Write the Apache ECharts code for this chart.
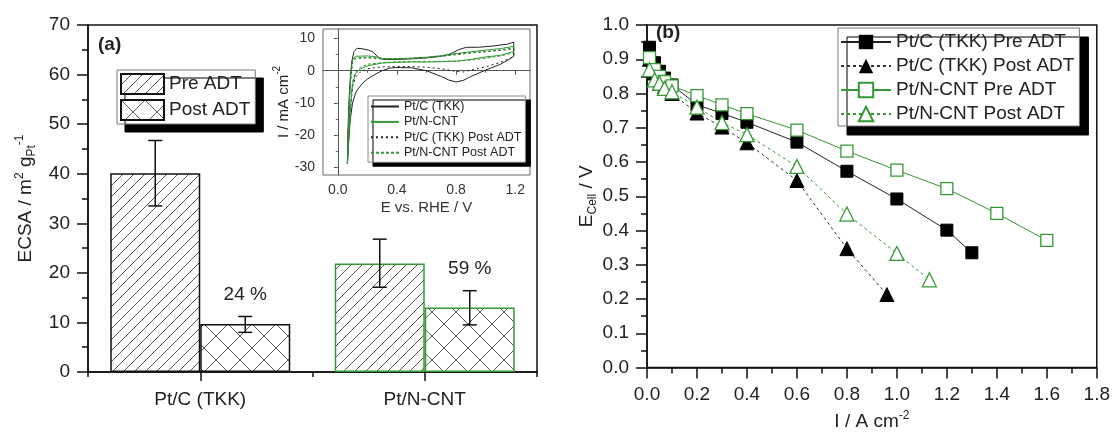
<!DOCTYPE html>
<html lang="en" style="height: 100%">
<head>
  <meta charset="utf-8">
</head>
<body style="height: 100%; margin: 0">
<div id="container" style="width: 1113px; height: 436px"></div>
<script type="text/javascript" src="https://fastly.jsdelivr.net/npm/echarts@6.0.0/dist/echarts.min.js"></script>
<script type="text/javascript">
// ---- panel (a): ECSA bars ----
var catalysts = ['Pt/C (TKK)', 'Pt/N-CNT'];
var ecsaPre = [40.1, 21.9];
var ecsaPreErr = [[33.5, 46.7], [17.1, 26.8]];
var ecsaPost = [9.7, 13.0];
var ecsaPostErr = [[8.0, 11.2], [9.5, 16.4]];
var retention = ['24 %', '59 %'];

// ---- inset: cyclic voltammograms [E / V, I / mA cm-2] ----
var cvPtC = [[0.065,-29],[0.068,-20],[0.075,-10],[0.085,-2],[0.095,3],[0.11,6],[0.13,7.0],[0.17,6.8],[0.21,6.4],[0.24,5.8],[0.27,4.3],[0.3,3.6],[0.4,3.5],[0.5,3.7],[0.6,4.0],[0.7,4.5],[0.76,5.2],[0.82,6.6],[0.87,7.3],[0.95,7.3],[1.05,7.7],[1.15,8.3],[1.19,8.9],
  [1.19,4.5],[1.15,3.3],[1.1,2.0],[1.0,0.2],[0.9,-1.8],[0.85,-3.0],[0.8,-3.5],[0.75,-2.9],[0.7,-1.8],[0.6,0.0],[0.5,0.9],[0.4,1.0],[0.35,0.8],[0.3,0.0],[0.25,-1.2],[0.2,-2.6],[0.17,-3.8],[0.14,-5.5],[0.12,-7],[0.1,-10],[0.085,-15],[0.075,-21],[0.065,-29]];
var cvNCNT = [[0.065,-29],[0.07,-20],[0.08,-8],[0.09,0],[0.1,3.5],[0.12,4.5],[0.2,4.6],[0.25,4.4],[0.3,3.8],[0.4,3.7],[0.5,3.9],[0.6,4.2],[0.7,4.7],[0.8,5.3],[0.9,5.9],[1.0,6.4],[1.1,6.9],[1.19,7.6],
  [1.19,6.0],[1.1,4.8],[1.0,4.3],[0.9,3.5],[0.8,3.0],[0.7,2.8],[0.6,2.7],[0.5,2.7],[0.4,2.6],[0.3,2.4],[0.2,1.5],[0.15,0.5],[0.12,-1],[0.1,-4],[0.085,-12],[0.075,-20],[0.065,-29]];
var cvPtCPost = [[0.065,-29],[0.07,-20],[0.08,-8],[0.09,-1],[0.1,2.5],[0.12,3.8],[0.2,4.0],[0.3,3.7],[0.4,3.7],[0.5,3.9],[0.6,4.1],[0.7,4.5],[0.8,5.2],[0.9,5.6],[1.0,5.9],[1.1,6.3],[1.19,6.9],
  [1.19,4.4],[1.1,2.6],[1.0,1.2],[0.9,0.2],[0.85,-0.4],[0.8,-0.2],[0.7,0.6],[0.6,1.1],[0.5,1.3],[0.4,1.3],[0.3,1.2],[0.2,0.6],[0.15,-0.5],[0.12,-2],[0.1,-5],[0.085,-12],[0.075,-20],[0.065,-29]];
var cvNCNTPost = [[0.065,-29],[0.07,-20],[0.08,-8],[0.09,-0.5],[0.1,3.0],[0.12,4.0],[0.2,4.2],[0.3,3.8],[0.4,3.7],[0.5,3.8],[0.6,4.1],[0.7,4.5],[0.8,5.0],[0.9,5.5],[1.0,6.0],[1.1,6.5],[1.19,7.2],
  [1.19,5.6],[1.1,4.6],[1.0,3.9],[0.9,3.3],[0.8,3.0],[0.7,2.9],[0.6,2.9],[0.5,2.9],[0.4,2.8],[0.3,2.5],[0.2,2.0],[0.15,1.0],[0.12,-0.5],[0.1,-3.5],[0.085,-12],[0.075,-20],[0.065,-29]];
var cvXTicks = [0, 0.4, 0.8, 1.2];
var cvXMinor = [0.2, 0.6, 1.0];
var cvYTicks = [-30, -20, -10, 0, 10];
var cvYMinor = [-25, -15, -5, 5];

// ---- panel (b): polarisation curves ----
var iPtCPre = [0.01, 0.03, 0.05, 0.07, 0.1, 0.2, 0.3, 0.4, 0.6, 0.8, 1.0, 1.2, 1.3];
var ePtCPre = [0.935, 0.89, 0.865, 0.845, 0.825, 0.767, 0.742, 0.716, 0.658, 0.573, 0.492, 0.401, 0.335];
var iPtCPost = [0.01, 0.03, 0.05, 0.07, 0.1, 0.2, 0.3, 0.4, 0.6, 0.8, 0.96];
var ePtCPost = [0.9, 0.86, 0.84, 0.82, 0.80, 0.743, 0.702, 0.656, 0.546, 0.347, 0.213];
var iNCNTPre = [0.01, 0.03, 0.05, 0.07, 0.1, 0.2, 0.3, 0.4, 0.6, 0.8, 1.0, 1.2, 1.4, 1.6];
var eNCNTPre = [0.905, 0.87, 0.85, 0.835, 0.822, 0.794, 0.767, 0.741, 0.693, 0.632, 0.576, 0.522, 0.450, 0.371];
var iNCNTPost = [0.01, 0.03, 0.05, 0.07, 0.1, 0.2, 0.3, 0.4, 0.6, 0.8, 1.0, 1.13];
var eNCNTPost = [0.87, 0.84, 0.83, 0.815, 0.805, 0.76, 0.715, 0.68, 0.587, 0.448, 0.333, 0.256];

var FONT = 'Arial, "Liberation Sans", sans-serif';
var INK = '#222';
var GREEN = '#349934';
var BAR_W = 90;
var barBorder = ['#111', GREEN];

function zip(xs, ys) { return xs.map(function (x, i) { return [x, ys[i]]; }); }

// hatch textures for the bars
function hatch(step, cross) {
  var c = document.createElement('canvas');
  c.width = c.height = step;
  var g = c.getContext('2d');
  g.fillStyle = '#fff';
  g.fillRect(0, 0, step, step);
  g.strokeStyle = '#555';
  g.lineWidth = 1;
  g.beginPath();
  g.moveTo(-1, step + 1); g.lineTo(step + 1, -1);
  if (cross) { g.moveTo(-1, -1); g.lineTo(step + 1, step + 1); }
  g.stroke();
  return c;
}
var preFill = { image: hatch(11, false), repeat: 'repeat' };
var postFill = { image: hatch(24, true), repeat: 'repeat' };

function rich(size, small) {
  return {
    n: { fontSize: size, fontFamily: FONT, color: INK },
    sup: { fontSize: small, fontFamily: FONT, color: INK, padding: [0, 0, 12, 0] },
    sub: { fontSize: small, fontFamily: FONT, color: INK, padding: [12, 0, 0, 0] }
  };
}

function errorSeries(errs, side, labels) {
  return {
    type: 'custom',
    xAxisIndex: 0,
    yAxisIndex: 0,
    z: 5,
    silent: true,
    data: errs.map(function (e, i) { return [i, e[0], e[1]]; }),
    encode: { x: 0, y: [1, 2] },
    renderItem: function (params, api) {
      var lo = api.coord([api.value(0), api.value(1)]);
      var hi = api.coord([api.value(0), api.value(2)]);
      var x = lo[0] + side * BAR_W / 2;
      var cap = 7;
      var st = { stroke: '#111', lineWidth: 1.5 };
      var kids = [
        { type: 'line', shape: { x1: x, y1: lo[1], x2: x, y2: hi[1] }, style: st },
        { type: 'line', shape: { x1: x - cap, y1: lo[1], x2: x + cap, y2: lo[1] }, style: st },
        { type: 'line', shape: { x1: x - cap, y1: hi[1], x2: x + cap, y2: hi[1] }, style: st }
      ];
      if (labels) {
        kids.push({ type: 'text', style: { text: labels[params.dataIndex], x: x, y: hi[1] - 12,
          align: 'center', verticalAlign: 'bottom', fontSize: 19, fontFamily: FONT, fill: INK } });
      }
      return { type: 'group', children: kids };
    }
  };
}

var dom = document.getElementById('container');
var myChart = echarts.init(dom, null, { renderer: 'canvas' });

function ticks(len, color, width, extra) {
  return Object.assign({ show: true, inside: false, length: len, lineStyle: { color: color, width: width } }, extra || {});
}
var mainMinor = { show: true, splitNumber: 2, length: 6, lineStyle: { color: '#111', width: 1.5 } };
var mainLine = { show: true, lineStyle: { color: '#111', width: 1.5 } };
var mainLabel = { fontSize: 19, fontFamily: FONT, color: INK, margin: 18 };
var cvLine = { show: true, lineStyle: { color: '#555', width: 1 } };
var cvLabel = { fontSize: 14, fontFamily: FONT, color: '#333' };

var option = {
  animation: false,
  backgroundColor: '#fff',
  grid: [
    { left: 88, top: 25, width: 449, height: 347, show: true, borderColor: '#111', borderWidth: 1.5 },
    { left: 323, top: 29, width: 207, height: 146, show: true, borderColor: '#666', borderWidth: 1 },
    { left: 647, top: 25, width: 450, height: 347, show: true, borderColor: '#111', borderWidth: 1.5 }
  ],
  xAxis: [
    { gridIndex: 0, type: 'category', data: catalysts, axisLine: mainLine,
      axisTick: ticks(5, '#111', 1.5, { interval: 0 }),
      axisLabel: mainLabel, splitLine: { show: false } },
    { gridIndex: 0, type: 'category', data: catalysts, position: 'bottom', axisLine: { show: false },
      axisTick: ticks(9, '#111', 1.5, { alignWithLabel: true, interval: 0 }),
      axisLabel: { show: false }, splitLine: { show: false } },
    { gridIndex: 1, type: 'value', min: -0.1, max: 1.3, axisLine: cvLine,
      axisTick: ticks(4, '#555', 1, { customValues: cvXTicks }),
      axisLabel: Object.assign({ customValues: cvXTicks, margin: 8, formatter: function (v) { return v.toFixed(1); } }, cvLabel),
      splitLine: { show: false },
      name: 'E vs. RHE / V', nameLocation: 'middle', nameGap: 25,
      nameTextStyle: { fontSize: 15, fontFamily: FONT, color: '#333' } },
    { gridIndex: 1, type: 'value', min: -0.1, max: 1.3, position: 'bottom', axisLine: { show: false },
      axisTick: ticks(2, '#555', 1, { customValues: cvXMinor }),
      axisLabel: { show: false }, splitLine: { show: false } },
    { gridIndex: 2, type: 'value', min: 0, max: 1.8, interval: 0.2, axisLine: mainLine,
      axisTick: ticks(11, '#111', 1.5), minorTick: mainMinor, minorSplitLine: { show: false },
      axisLabel: Object.assign({ formatter: function (v) { return v.toFixed(1); } }, mainLabel),
      splitLine: { show: false },
      name: '{n|I / A cm}{sup|-2}', nameLocation: 'middle', nameGap: 42,
      nameTextStyle: { rich: rich(19, 12) } }
  ],
  yAxis: [
    { gridIndex: 0, type: 'value', min: 0, max: 70, interval: 10, axisLine: mainLine,
      axisTick: ticks(11, '#111', 1.5), minorTick: mainMinor, minorSplitLine: { show: false },
      axisLabel: mainLabel, splitLine: { show: false },
      name: '{n|ECSA / m}{sup|2}{n| g}{sub|Pt}{sup|-1}', nameLocation: 'middle', nameGap: 50,
      nameTextStyle: { rich: rich(19, 12) } },
    { gridIndex: 1, type: 'value', min: -32.5, max: 13, axisLine: cvLine,
      axisTick: ticks(4, '#555', 1, { customValues: cvYTicks }),
      axisLabel: Object.assign({ customValues: cvYTicks, margin: 8 }, cvLabel),
      splitLine: { show: false },
      name: '{n|I / mA cm}{sup|-2}', nameLocation: 'middle', nameGap: 21,
      nameTextStyle: { rich: rich(15, 10) } },
    { gridIndex: 1, type: 'value', min: -32.5, max: 13, position: 'left', axisLine: { show: false },
      axisTick: ticks(2, '#555', 1, { customValues: cvYMinor }),
      axisLabel: { show: false }, splitLine: { show: false } },
    { gridIndex: 2, type: 'value', min: 0, max: 1, interval: 0.1, axisLine: mainLine,
      axisTick: ticks(11, '#111', 1.5), minorTick: mainMinor, minorSplitLine: { show: false },
      axisLabel: Object.assign({ formatter: function (v) { return v.toFixed(1); } }, mainLabel),
      splitLine: { show: false },
      name: '{n|E}{sub|Cell}{n| / V}', nameLocation: 'middle', nameGap: 48,
      nameTextStyle: { rich: rich(19, 12) } }
  ],
  legend: [
    { data: ['Pre ADT', 'Post ADT'], orient: 'vertical', left: 117, top: 70, icon: 'rect',
      itemWidth: 43, itemHeight: 20, itemGap: 4, itemTextGap: 8, padding: [3, 5, 3, 3],
      backgroundColor: '#fff', borderColor: '#777', borderWidth: 1,
      shadowColor: '#000', shadowOffsetX: 8, shadowOffsetY: 8, shadowBlur: 0,
      selectedMode: false,
      textStyle: { fontSize: 19, lineHeight: 20, fontFamily: FONT, color: INK } },
    { data: ['cv Pt/C (TKK)', 'cv Pt/N-CNT', 'cv Pt/C (TKK) Post ADT', 'cv Pt/N-CNT Post ADT'],
      formatter: function (n) { return n.replace(/^cv /, ''); },
      orient: 'vertical', left: 368, top: 96,
      itemWidth: 28, itemHeight: 10, itemGap: 2.4, itemTextGap: 4, padding: [4, 4, 3, 2],
      itemStyle: { opacity: 0 },
      backgroundColor: '#fff', borderColor: '#888', borderWidth: 1,
      shadowColor: '#000', shadowOffsetX: 5, shadowOffsetY: 4, shadowBlur: 0,
      selectedMode: false,
      textStyle: { fontSize: 12.5, lineHeight: 13, fontFamily: FONT, color: INK } },
    { data: ['Pt/C (TKK) Pre ADT', 'Pt/C (TKK) Post ADT', 'Pt/N-CNT Pre ADT', 'Pt/N-CNT Post ADT'],
      orient: 'vertical', left: 838, top: 28,
      itemWidth: 50, itemHeight: 18, itemGap: 4, itemTextGap: 2, padding: [4, 5, 2, 2],
      backgroundColor: '#fff', borderColor: '#777', borderWidth: 1,
      shadowColor: '#000', shadowOffsetX: 9, shadowOffsetY: 9, shadowBlur: 0,
      selectedMode: false,
      textStyle: { fontSize: 19, lineHeight: 20, fontFamily: FONT, color: INK } }
  ],
  graphic: [
    { type: 'text', left: 98, top: 35, style: { text: '(a)', fontSize: 19, fontWeight: 'bold', fontFamily: FONT, fill: INK } },
    { type: 'text', left: 656, top: 23, style: { text: '(b)', fontSize: 19, fontWeight: 'bold', fontFamily: FONT, fill: INK } }
  ],
  series: [
    { name: 'Pre ADT', type: 'bar', xAxisIndex: 0, yAxisIndex: 0, barWidth: BAR_W, barGap: '0%',
      itemStyle: { color: preFill, borderColor: '#111', borderWidth: 1.5 },
      data: ecsaPre.map(function (v, i) { return { value: v, itemStyle: { borderColor: barBorder[i] } }; }) },
    { name: 'Post ADT', type: 'bar', xAxisIndex: 0, yAxisIndex: 0, barWidth: BAR_W, barGap: '0%',
      itemStyle: { color: postFill, borderColor: '#111', borderWidth: 1.5 },
      data: ecsaPost.map(function (v, i) { return { value: v, itemStyle: { borderColor: barBorder[i] } }; }) },
    errorSeries(ecsaPreErr, -1, null),
    errorSeries(ecsaPostErr, 1, retention),

    { name: 'cv Pt/C (TKK)', type: 'line', xAxisIndex: 2, yAxisIndex: 1, symbol: 'none',
      lineStyle: { color: '#222', width: 1 }, itemStyle: { color: '#222' }, data: cvPtC },
    { name: 'cv Pt/N-CNT', type: 'line', xAxisIndex: 2, yAxisIndex: 1, symbol: 'none',
      lineStyle: { color: GREEN, width: 1 }, itemStyle: { color: GREEN }, data: cvNCNT },
    { name: 'cv Pt/C (TKK) Post ADT', type: 'line', xAxisIndex: 2, yAxisIndex: 1, symbol: 'none',
      lineStyle: { color: '#222', width: 1, type: [2, 3] }, itemStyle: { color: '#222' }, data: cvPtCPost },
    { name: 'cv Pt/N-CNT Post ADT', type: 'line', xAxisIndex: 2, yAxisIndex: 1, symbol: 'none',
      lineStyle: { color: GREEN, width: 1, type: [3, 2] }, itemStyle: { color: GREEN }, data: cvNCNTPost },

    { name: 'Pt/C (TKK) Pre ADT', type: 'line', xAxisIndex: 4, yAxisIndex: 3, symbol: 'rect', symbolSize: 12,
      lineStyle: { color: '#222', width: 1 }, itemStyle: { color: '#000', borderColor: '#000' },
      data: zip(iPtCPre, ePtCPre) },
    { name: 'Pt/C (TKK) Post ADT', type: 'line', xAxisIndex: 4, yAxisIndex: 3, symbol: 'triangle', symbolSize: 14,
      lineStyle: { color: '#333', width: 1, type: [3, 3] }, itemStyle: { color: '#000', borderColor: '#000' },
      data: zip(iPtCPost, ePtCPost) },
    { name: 'Pt/N-CNT Pre ADT', type: 'line', xAxisIndex: 4, yAxisIndex: 3, symbol: 'rect', symbolSize: 12,
      lineStyle: { color: GREEN, width: 1 }, itemStyle: { color: '#fff', borderColor: GREEN, borderWidth: 1.3 },
      data: zip(iNCNTPre, eNCNTPre) },
    { name: 'Pt/N-CNT Post ADT', type: 'line', xAxisIndex: 4, yAxisIndex: 3, symbol: 'triangle', symbolSize: 14,
      lineStyle: { color: GREEN, width: 1, type: [3, 3] }, itemStyle: { color: '#fff', borderColor: GREEN, borderWidth: 1.3 },
      data: zip(iNCNTPost, eNCNTPost) }
  ]
};

myChart.setOption(option);
window.addEventListener('resize', myChart.resize);
</script>
</body>
</html>
